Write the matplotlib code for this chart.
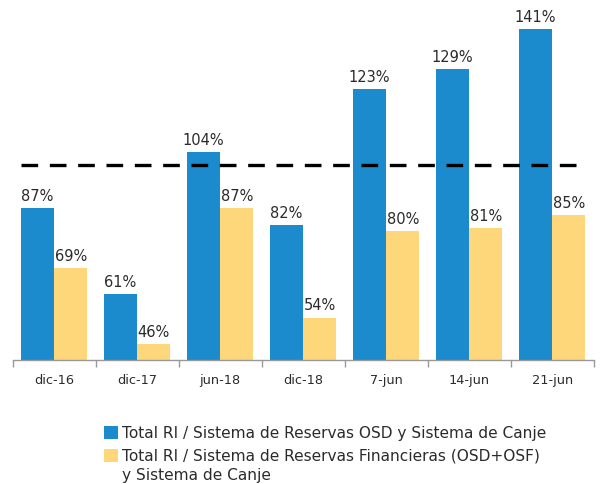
import matplotlib
matplotlib.use("Agg")
import matplotlib.pyplot as plt
import numpy as np
from matplotlib.patches import Patch

categories = ["dic-16", "dic-17", "jun-18", "dic-18", "7-jun", "14-jun", "21-jun"]
osd = [87, 61, 104, 82, 123, 129, 141]
financieras = [69, 46, 87, 54, 80, 81, 85]
threshold = 100
labels = ["Total RI / Sistema de Reservas OSD y Sistema de Canje",
          "Total RI / Sistema de Reservas Financieras (OSD+OSF)"]
label_cont = "y Sistema de Canje"

blue = "#1C8BCD"
yellow = "#FED77A"
txt = "#2b2b2b"

plt.rcParams['font.family'] = ['DejaVu Sans']

W, H = 601, 484
fig = plt.figure(figsize=(W / 100, H / 100), dpi=100)
ax = fig.add_axes([12.7 / W, (H - 360) / H, (593.7 - 12.7) / W, 360 / H])

x = np.arange(len(categories))
bw = 0.4
b1 = ax.bar(x - bw / 2, osd, bw, color=blue)
b2 = ax.bar(x + bw / 2, financieras, bw, color=yellow)

for rect, v in zip(b1, osd):
    ax.annotate(f"{v}%", (rect.get_x() + rect.get_width() / 2, v), xytext=(0, 3),
                textcoords="offset points", ha="center", va="bottom", fontsize=10.5, color=txt)
for rect, v in zip(b2, financieras):
    ax.annotate(f"{v}%", (rect.get_x() + rect.get_width() / 2, v), xytext=(0, 3),
                textcoords="offset points", ha="center", va="bottom", fontsize=10.5, color=txt)

ax.plot([-0.4, 6.37], [threshold, threshold], color="black", lw=2.4, dashes=(5, 3.5), zorder=5)

ax.set_xlim(-0.5, 6.5)
ax.set_ylim(41.2, 149.8)
for s in ["top", "right", "left"]:
    ax.spines[s].set_visible(False)
ax.spines["bottom"].set_color("#999999")
ax.spines["bottom"].set_linewidth(1.0)
ax.set_yticks([])
ax.set_xticks(np.arange(-0.5, 7, 1))
ax.set_xticklabels([])
ax.set_xticks(x, minor=True)
ax.set_xticklabels(categories, minor=True, fontsize=9.3, color=txt)
ax.tick_params(axis="x", which="major", length=5, color="#999999", width=1)
ax.tick_params(axis="x", which="minor", length=0, pad=10)

handles = [Patch(facecolor=blue), Patch(facecolor=yellow)]
leg = fig.legend(handles, labels, loc="upper left", bbox_to_anchor=(98 / W, 1 - 420 / H),
                 frameon=False, fontsize=11.1, handlelength=0.9, handleheight=0.9,
                 handletextpad=0.25, labelspacing=0.5, labelcolor=txt, borderaxespad=0)

fig.canvas.draw()
t2 = leg.get_texts()[1]
bb = t2.get_window_extent()
fig.text(bb.x0 / W, (bb.y0 - 19.5) / H, label_cont, fontsize=11.1, color=txt,
         ha="left", va="bottom")

fig.savefig("out.png", dpi=100)
